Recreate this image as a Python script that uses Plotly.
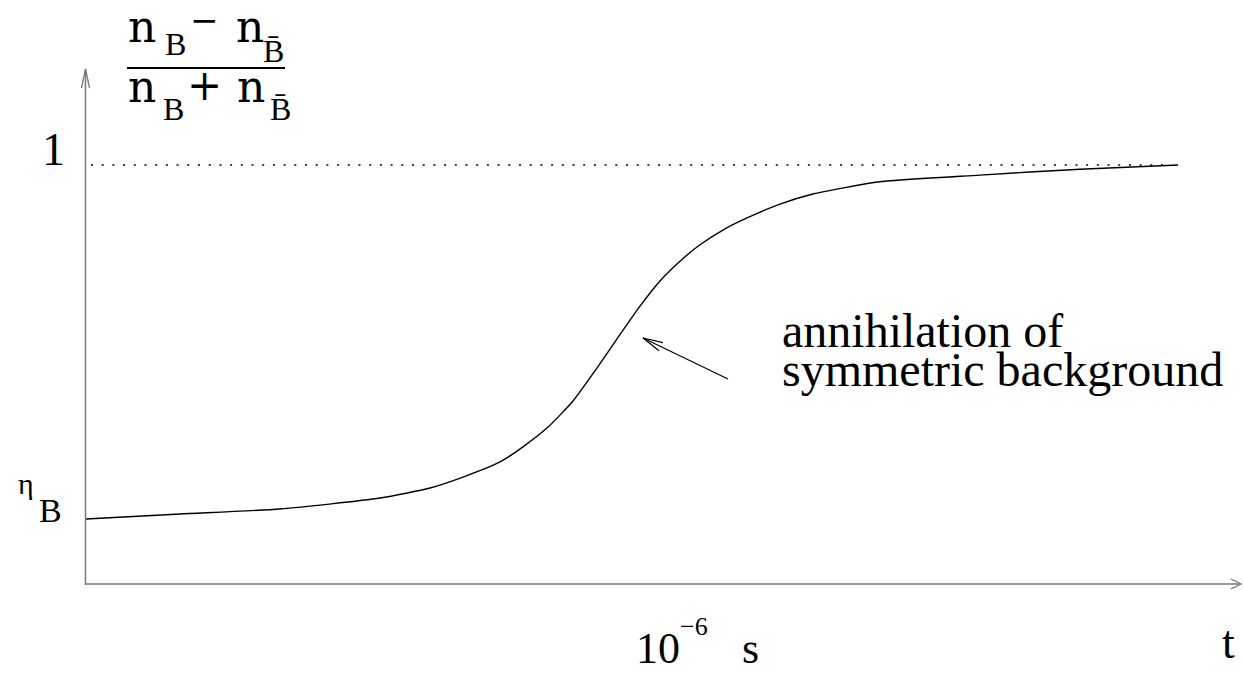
import math
import plotly.graph_objects as go

# ---- data -----------------------------------------------------------------
# time in arbitrary units along the horizontal axis, asymmetry ratio on the vertical
t_vals = [0.0, 0.94, 1.94, 2.94, 3.44, 3.77, 4.14, 4.37, 4.62, 4.87, 5.09, 5.31,
          5.54, 5.74, 5.94, 6.14, 6.39, 6.61, 6.94, 7.27, 7.94, 8.94, 9.94, 10.92]
asym_vals = [0.157, 0.169, 0.181, 0.207, 0.231, 0.257, 0.293, 0.329, 0.376, 0.438, 0.510, 0.586,
             0.664, 0.724, 0.771, 0.810, 0.848, 0.874, 0.907, 0.931, 0.960, 0.976, 0.990, 1.0]
eta_B = 0.157
unity = 1.0
dotted_t = [0.05, 10.79]

# ---- geometry ----------------------------------------------------------------
W, H = 1243, 673
ML, MB = 80, 80
X0_PX, Y0_PX = 86, 585          # pixel position of the origin
SX, SY = 100.0, 420.0           # pixels per data unit

X_RANGE = [(ML - X0_PX) / SX, (W - X0_PX) / SX]
Y_RANGE = [(Y0_PX - (H - MB)) / SY, Y0_PX / SY]


def d(px, py):
    """Pixel position -> data coordinates."""
    return (px - X0_PX) / SX, (Y0_PX - py) / SY


def paper(px, py):
    """Pixel position -> paper coordinates."""
    return (px - ML) / (W - ML), (H - MB - py) / (H - MB)


def arrow_head(tip, tail, length, half):
    """Open V arrow head (in data coords) at tip, pointing away from tail."""
    tx, ty = tip
    ux, uy = tip[0] - tail[0], tip[1] - tail[1]
    n = math.hypot(ux, uy)
    ux, uy = ux / n, uy / n
    bx, by = tx - ux * length, ty - uy * length
    w1 = d(bx - uy * half, by + ux * half)
    w2 = d(bx + uy * half, by - ux * half)
    t = d(tx, ty)
    return f"M{w1[0]},{w1[1]} L{t[0]},{t[1]} L{w2[0]},{w2[1]}"


AXIS_COLOR = "#7a7a7a"
SERIF = "Liberation Serif"
MATH = "DejaVu Serif"

fig = go.Figure()

# dotted reference line at 1
fig.add_trace(go.Scatter(
    x=dotted_t, y=[unity, unity], mode="lines",
    line=dict(color="black", width=1.6, dash="2px,8.7px"),
    hoverinfo="skip", showlegend=False))

# asymmetry curve
fig.add_trace(go.Scatter(
    x=t_vals, y=asym_vals, mode="lines",
    line=dict(color="black", width=1.4, shape="spline", smoothing=0.6),
    hoverinfo="skip", showlegend=False))

shapes = []
# axes with arrow heads
o = d(85.5, 585)
xa0, xa1 = d(85.5, 584), d(1241, 584)
ya1 = d(85.5, 69)
shapes.append(dict(type="line", xref="x", yref="y", x0=xa0[0], y0=xa0[1],
                   x1=xa1[0], y1=xa1[1], line=dict(color=AXIS_COLOR, width=1.5)))
shapes.append(dict(type="line", xref="x", yref="y", x0=o[0], y0=o[1],
                   x1=ya1[0], y1=ya1[1], line=dict(color=AXIS_COLOR, width=1.5)))
shapes.append(dict(type="path", xref="x", yref="y",
                   path=arrow_head((1241, 584), (86, 584), 10, 5),
                   line=dict(color=AXIS_COLOR, width=1.3)))
shapes.append(dict(type="path", xref="x", yref="y",
                   path=arrow_head((85.5, 69), (85.5, 585), 19, 4),
                   line=dict(color=AXIS_COLOR, width=1.3)))

# pointer to the steep part of the curve
tip, tail = (643, 338), (728, 379)
p0, p1 = d(*tail), d(*tip)
shapes.append(dict(type="line", xref="x", yref="y", x0=p0[0], y0=p0[1], x1=p1[0], y1=p1[1],
                   line=dict(color="black", width=1.2)))
shapes.append(dict(type="path", xref="x", yref="y",
                   path=arrow_head(tip, tail, 20, 4.5),
                   line=dict(color="black", width=1.2)))

# fraction bar of the axis label
f0, f1 = d(127, 68), d(285, 68)
shapes.append(dict(type="line", xref="x", yref="y", x0=f0[0], y0=f0[1], x1=f1[0], y1=f1[1],
                   line=dict(color="black", width=2)))

annotations = []


def label(text, px, py, size, family=SERIF, xanchor="center", yanchor="middle"):
    x, y = paper(px, py)
    annotations.append(dict(text=text, x=x, y=y, xref="paper", yref="paper",
                            xanchor=xanchor, yanchor=yanchor, showarrow=False,
                            font=dict(family=family, size=size, color="black")))


# vertical axis label (n_B - n_Bbar)/(n_B + n_Bbar)
label("n", 142, 26, 44, MATH)
label("B", 175, 44, 32)
label("\u2212", 204, 20.5, 34, MATH)
label("n", 250, 26, 44, MATH)
label("B\u0304", 273, 51, 32)
label("n", 142, 86, 44, MATH)
label("B", 173, 109, 32)
label("+", 204, 85, 42, MATH)
label("n", 251, 86, 44, MATH)
label("B\u0304", 280, 109, 32)

# values on the vertical axis
label("1", 53, 149, 46)
label("\u03b7", 26, 483.5, 30)
label("B", 50, 510.5, 34)

# horizontal axis
label("10", 658, 648, 44)
label("\u22126", 694, 626, 26)
label("s", 750, 648, 44)
label("t", 1228, 642.5, 46)

# explanation of the steep rise
label("annihilation of", 780, 330, 48, xanchor="left")
label("symmetric background", 780, 369.5, 48, xanchor="left")

fig.update_layout(
    width=W, height=H,
    margin=dict(l=ML, r=0, t=0, b=MB, pad=0),
    paper_bgcolor="white", plot_bgcolor="white",
    xaxis=dict(range=X_RANGE, visible=False, fixedrange=True),
    yaxis=dict(range=Y_RANGE, visible=False, fixedrange=True),
    shapes=shapes, annotations=annotations,
    showlegend=False,
)

fig.write_html("out.html")
